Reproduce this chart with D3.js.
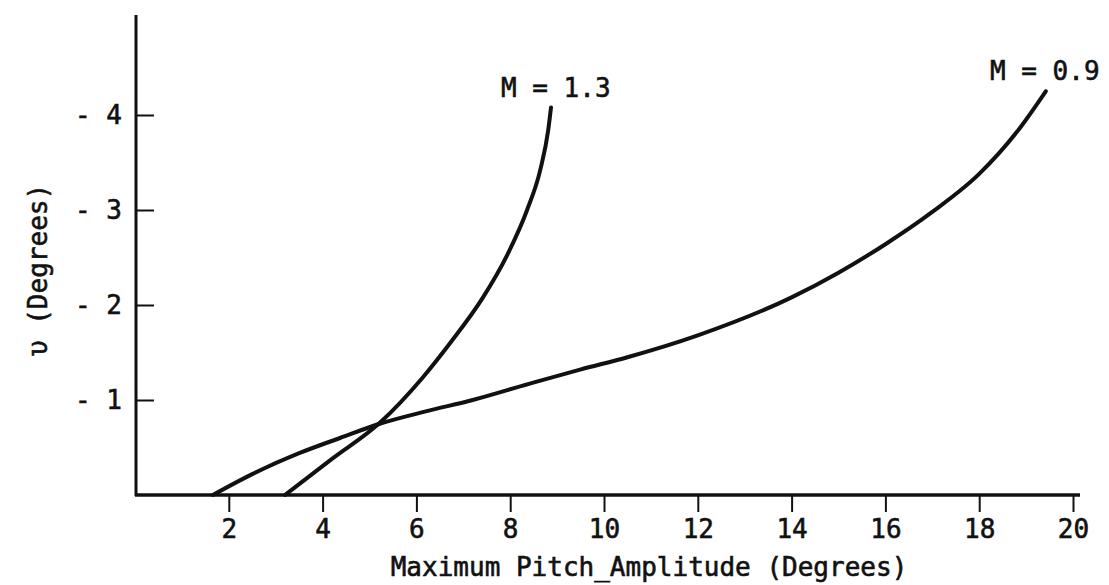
<!DOCTYPE html>
<html>
<head>
<meta charset="utf-8">
<script src="https://cdn.jsdelivr.net/npm/d3@7"></script>
<style>
  body { margin: 0; background: #fff; }
  text { font-family: "DejaVu Sans Mono", monospace; fill: #111; stroke: #111; stroke-width: 0.6px; }
</style>
</head>
<body>
<svg width="1109" height="585"></svg>
<script>
// curves: [pitch amplitude, value]
var m09 = [[1.66,0],[2.5,0.22],[3.5,0.44],[4.37,0.6],[5.22,0.75],[6.2,0.88],[7.2,1.0],[8.4,1.17],[9.49,1.32],[10.5,1.45],[12,1.68],[14,2.08],[15,2.34],[16,2.64],[17,2.98],[18,3.38],[18.8,3.82],[19.42,4.25]];
var m13 = [[3.2,0],[4.2,0.38],[5.22,0.76],[6.14,1.24],[6.72,1.6],[7.42,2.08],[7.93,2.52],[8.36,3.0],[8.64,3.42],[8.81,3.84],[8.87,4.08]];
var xTicks = [2,4,6,8,10,12,14,16,18,20];
var yTicks = [1,2,3,4];
var curveLabels = ["M = 0.9", "M = 1.3"];

var svg = d3.select("svg");
var x0 = 136, y0 = 495;

var xScale = d3.scaleLinear().domain([0, 20]).range([135, 1073]);
var yScale = d3.scaleLinear().domain([0, 5]).range([495, 20]);

// axes lines
svg.append("line")
   .attr("x1", x0).attr("x2", x0)
   .attr("y1", 15).attr("y2", y0 + 1)
   .attr("stroke", "#111").attr("stroke-width", 3);
svg.append("line")
   .attr("x1", x0 - 1).attr("x2", 1080)
   .attr("y1", y0).attr("y2", y0)
   .attr("stroke", "#111").attr("stroke-width", 3.5);

var gx = svg.append("g")
   .attr("transform", "translate(0," + y0 + ")")
   .call(d3.axisBottom(xScale).tickValues(xTicks).tickSize(17).tickPadding(8).tickFormat(d3.format("d")));
gx.select(".domain").remove();
gx.selectAll(".tick line").attr("stroke", "#111").attr("stroke-width", 2);
gx.selectAll(".tick text").attr("font-size", "26px").attr("fill", "#111");

var gy = svg.append("g")
   .attr("transform", "translate(" + x0 + ",0)")
   .call(d3.axisLeft(yScale).tickValues(yTicks).tickSize(-18).tickPadding(14).tickFormat(function(d) { return "- " + d; }));
gy.select(".domain").remove();
gy.selectAll(".tick line").attr("stroke", "#111").attr("stroke-width", 2);
gy.selectAll(".tick text").attr("font-size", "26px").attr("fill", "#111");

var line = d3.line()
   .x(function(d) { return xScale(d[0]); })
   .y(function(d) { return yScale(d[1]); })
   .curve(d3.curveMonotoneX);

[m09, m13].forEach(function(s) {
   svg.append("path")
      .attr("d", line(s))
      .attr("fill", "none")
      .attr("stroke", "#111")
      .attr("stroke-width", 4)
      .attr("stroke-linecap", "round");
});

svg.append("text").attr("x", 990).attr("y", 80)
   .attr("font-size", "26px").text(curveLabels[0]);
svg.append("text").attr("x", 501).attr("y", 97)
   .attr("font-size", "26px").text(curveLabels[1]);

svg.append("text")
   .attr("x", 649).attr("y", 576)
   .attr("text-anchor", "middle")
   .attr("font-size", "26px")
   .text("Maximum Pitch_Amplitude (Degrees)");

svg.append("text")
   .attr("transform", "translate(47,270) rotate(-90)")
   .attr("text-anchor", "middle")
   .attr("font-family", "DejaVu Sans")
   .attr("font-size", "26px")
   .text("υ (Degrees)");
</script>
</body>
</html>
